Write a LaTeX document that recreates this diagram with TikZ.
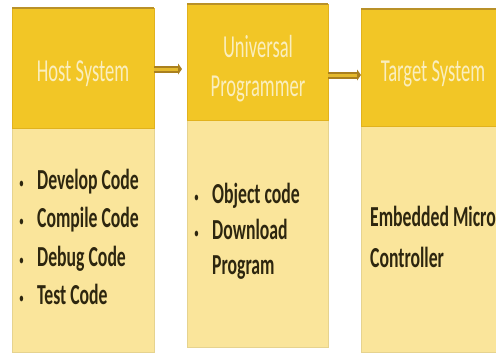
\documentclass[tikz,border=0pt]{standalone}
\usepackage{fontspec}
\usetikzlibrary{arrows.meta}
\newfontfamily\hdrfont[FakeStretch=0.58]{Carlito}
\newfontfamily\bodyfont[FakeStretch=0.61]{Carlito}
\definecolor{hdrgold}{RGB}{242,198,38}
\definecolor{bodycream}{RGB}{250,229,155}
\definecolor{topbrown}{RGB}{185,145,40}
\definecolor{edgegold}{RGB}{225,178,30}
\definecolor{hdrtext}{RGB}{250,238,190}
\definecolor{bodytext}{RGB}{45,38,15}
\definecolor{arrbrown}{RGB}{170,128,30}
\definecolor{arrfill}{RGB}{228,185,45}
\tikzset{
  hdr/.style={rectangle,anchor=north west,inner sep=0pt,outer sep=0pt,fill=hdrgold,draw=edgegold,line width=0.8pt},
  bodybox/.style={rectangle,anchor=north west,inner sep=0pt,outer sep=0pt,fill=bodycream,draw=bodycream!92!black,line width=0.5pt},
  htxt/.style={inner sep=0pt,anchor=base,text=hdrtext,font=\hdrfont\fontsize{32}{36}\selectfont},
  btxt/.style={inner sep=0pt,anchor=base west,text=bodytext,font=\bodyfont\bfseries\fontsize{29}{33}\selectfont},
  arrout/.style={line width=7pt,draw=arrbrown,-{Triangle[length=4pt,width=11pt]}},
  arrin/.style={line width=3pt,draw=arrfill},
}
\newcommand{\bul}{\makebox[18pt][l]{\raisebox{1pt}{\fontsize{16}{16}\selectfont\mdseries •}}}
\begin{document}
\begin{tikzpicture}[x=1pt,y=-1pt]
\useasboundingbox (0,0) rectangle (496,354);
\fill[white] (0,0) rectangle (496,354);
% boxes
\node[bodybox,minimum width=142pt,minimum height=224pt] (b1) at (12,128) {};
\node[hdr,minimum width=142pt,minimum height=120pt] (h1) at (12,8) {};
\node[bodybox,minimum width=141pt,minimum height=227pt] (b2) at (187,120) {};
\node[hdr,minimum width=141pt,minimum height=116pt] (h2) at (187,4) {};
\node[bodybox,minimum width=136pt,minimum height=226pt] (b3) at (361,126) {};
\node[hdr,minimum width=136pt,minimum height=117pt] (h3) at (361,9) {};
% top borders
\draw[topbrown,line width=2.5pt] (h1.north west) -- (h1.north east);
\draw[topbrown,line width=2.5pt] (h2.north west) -- (h2.north east);
\draw[topbrown,line width=2.5pt] (h3.north west) -- (h3.north east);
% header texts
\node[htxt] (t1) at (83,81) {Host System};
\node[htxt] (t2a) at (258,57) {Universal};
\node[htxt] (t2b) at (258,96) {Programmer};
\node[htxt] (t3) at (433,81) {Target System};
% body texts
\node[btxt] (l1) at (19,189) {\bul Develop Code};
\node[btxt] (l2) at (19,227) {\bul Compile Code};
\node[btxt] (l3) at (19,266) {\bul Debug Code};
\node[btxt] (l4) at (19,304) {\bul Test Code};
\node[btxt] (m1) at (194,203) {\bul Object code};
\node[btxt] (m2) at (194,239) {\bul Download};
\node[btxt] (m3) at (212,274) {Program};
\node[btxt] (r1) at (370,226) {Embedded Micro};
\node[btxt] (r2) at (370,267) {Controller};
% arrows
\draw[arrout,shorten >=5pt] ([yshift=-1pt]h1.east) -- ([yshift=-1pt]h1.east -| h2.west);
\draw[arrin,shorten >=9pt] ([yshift=-1pt]h1.east) -- ([yshift=-1pt]h1.east -| h2.west);
\draw[arrout] ([yshift=-13pt]h2.east) -- ([yshift=-13pt]h2.east -| h3.west);
\draw[arrin,shorten >=4pt] ([yshift=-13pt]h2.east) -- ([yshift=-13pt]h2.east -| h3.west);
\end{tikzpicture}
\end{document}
